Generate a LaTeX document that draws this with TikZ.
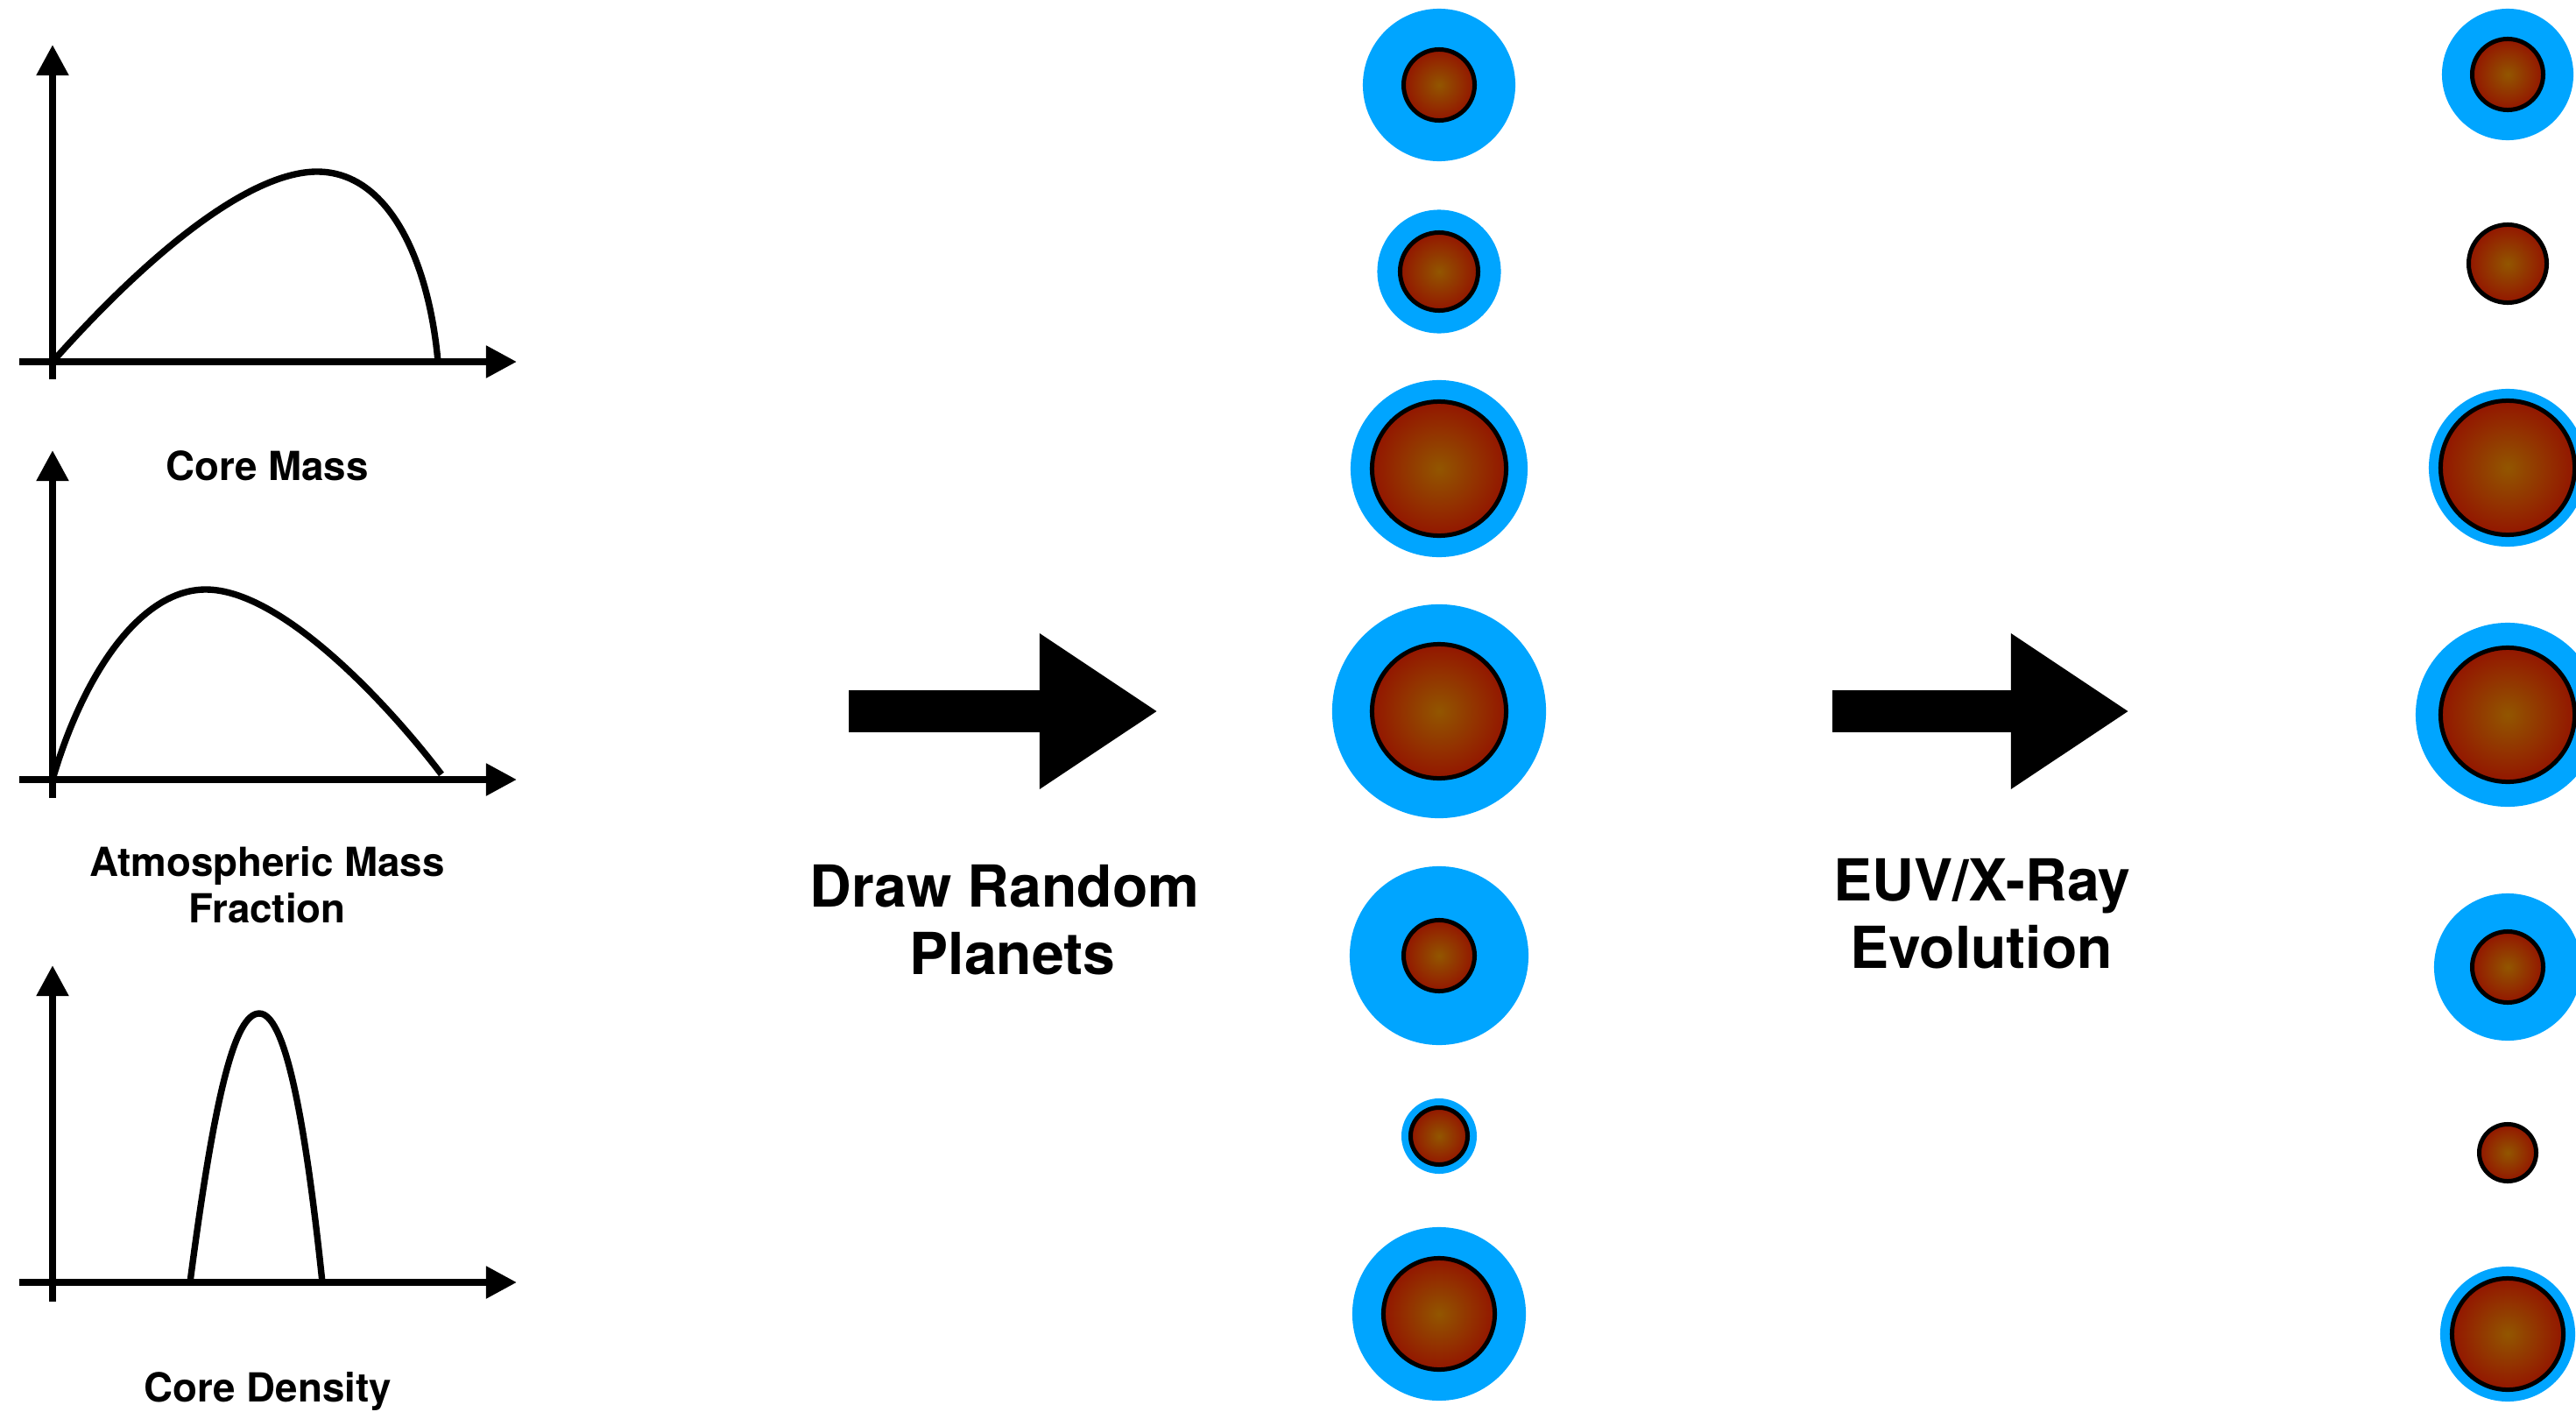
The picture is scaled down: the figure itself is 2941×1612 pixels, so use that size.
\documentclass[tikz,border=0pt]{standalone}
\usepackage{fontspec}
\setmainfont{TeX Gyre Heros}
\usetikzlibrary{arrows.meta}
\definecolor{atmo}{RGB}{0,165,255}
\definecolor{corein}{RGB}{146,86,0}
\definecolor{coreout}{RGB}{147,22,0}
\tikzset{>={Triangle[length=0.35cm,width=0.35cm]},
  axis/.style={line width=2.3pt,->},
  pdf/.style={line width=2.1pt},
  atmosphere/.style={circle,fill=atmo,inner sep=0pt},
  core/.style={circle,draw=black,line width=0.05cm,inner color=corein,
    outer color=coreout,inner sep=0pt},
  axislabel/.style={font=\fontsize{13}{15}\selectfont\bfseries},
  steplabel/.style={font=\fontsize{18.8}{22}\selectfont\bfseries},
  bigarrow/.style={line width=0.47cm,-{Triangle[length=1.35cm,width=1.68cm]}}}

\begin{document}
\begin{tikzpicture}[x=0.01cm,y=-0.01cm]
  \useasboundingbox (0,0) rectangle (2941,1612);

  % distributions
  % core mass
  \draw[axis] (60,433) -- (60,51);
  \draw[axis] (22,413) -- (590,413);
  \draw[pdf] (60,413) .. controls (180,278) and (290,196) .. (362,196)
    .. controls (445,196) and (490,300) .. (500,413);
  \node[axislabel,anchor=base] (mass) at (305,548) {Core Mass};

  % atmospheric mass fraction
  \draw[axis] (60,911) -- (60,514);
  \draw[axis] (22,890) -- (590,890);
  \draw[pdf] (60,890) .. controls (95,770) and (160,673) .. (235,673)
    .. controls (320,673) and (440,800) .. (504,884);
  \node[axislabel,anchor=base] (frac1) at (305,1000) {Atmospheric Mass};
  \node[axislabel,anchor=base] (frac2) at (305,1053) {Fraction};

  % core density
  \draw[axis] (60,1486) -- (60,1102);
  \draw[axis] (22,1464) -- (590,1464);
  \draw[pdf] (217,1464) .. controls (245,1250) and (268,1157) .. (296,1157)
    .. controls (324,1157) and (347,1264) .. (368,1464);
  \node[axislabel,anchor=base] (dens) at (306,1600) {Core Density};

  % sampling step
  \coordinate (draw-from) at (969,812);
  \coordinate (draw-to) at (1322,812);
  \draw[bigarrow] (draw-from) -- (draw-to);
  \node[steplabel,anchor=base] (draw1) at (1147,1035) {Draw Random};
  \node[steplabel,anchor=base] (draw2) at (1156,1112) {Planets};

  % planets before evolution
  \foreach \y/\a/\c [count=\i] in {97/87/43, 310/70.5/47, 535/101/79,
      812/122/79, 1091/102/43, 1297/43/35, 1500/99/66} {
    \node[atmosphere,minimum size=\a*0.02cm] (atm-mid-\i) at (1643,\y) {};
    \node[core,minimum size={(\c-2.5)*0.02cm}] (core-mid-\i) at (1643,\y) {};
  }

  % evolution step
  \coordinate (evo-from) at (2092,812);
  \coordinate (evo-to) at (2431,812);
  \draw[bigarrow] (evo-from) -- (evo-to);
  \node[steplabel,anchor=base] (evo1) at (2263,1028) {EUV/X-Ray};
  \node[steplabel,anchor=base] (evo2) at (2262,1105) {Evolution};

  % planets after evolution (0 = atmosphere stripped)
  \foreach \y/\a/\c [count=\i] in {85/75/43, 301/0/47, 534/90/79,
      816/105/79, 1104/84/43, 1316/0/35, 1523/77/66} {
    \node[atmosphere,minimum size=\a*0.02cm] (atm-end-\i) at (2863,\y) {};
    \node[core,minimum size={(\c-2.5)*0.02cm}] (core-end-\i) at (2863,\y) {};
  }
\end{tikzpicture}
\end{document}
